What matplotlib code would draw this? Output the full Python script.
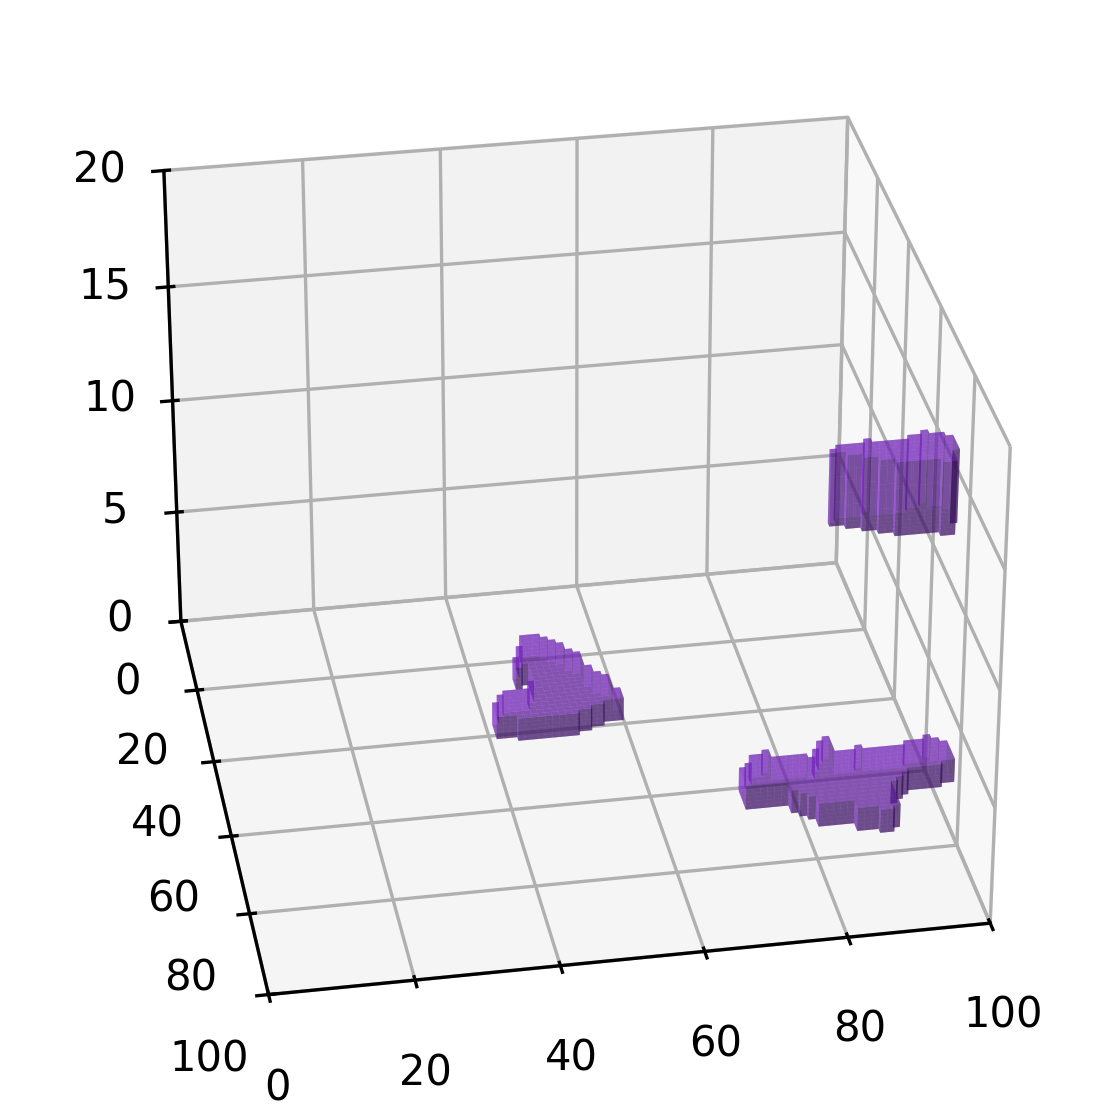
import numpy as np
import matplotlib
matplotlib.use("Agg")
import matplotlib.pyplot as plt

# footprint of each blob, one run of cells per entry (row y, cells x0..x1)
blob1_y = [19, 20, 21, 22, 23, 24, 25, 26, 27, 27, 28, 29, 30, 31, 32, 33, 34, 35, 36, 37, 38, 39, 40, 41]
blob1_x0 = [48, 48, 48, 47, 47, 47, 46, 46, 46, 48, 48, 48, 48, 48, 47, 47, 43, 42, 42, 41, 41, 41, 41, 44]
blob1_x1 = [50, 51, 52, 53, 53, 54, 55, 55, 46, 55, 55, 56, 56, 57, 58, 58, 58, 58, 59, 59, 59, 56, 54, 52]
blob1_z = (0, 1)

blob2_y = [72, 73, 74, 74, 74, 75, 75, 75, 75, 76, 76, 77, 78, 79, 80, 81, 82, 83, 84, 85, 86, 87, 88, 89, 90, 91]
blob2_x0 = [82, 81, 73, 81, 96, 71, 80, 86, 93, 71, 80, 70, 69, 69, 69, 69, 69, 75, 75, 76, 77, 78, 78, 83, 83, 86]
blob2_x1 = [82, 82, 73, 82, 96, 73, 82, 86, 97, 78, 98, 98, 98, 98, 98, 96, 91, 90, 89, 88, 88, 88, 88, 88, 88, 87]
blob2_z = (3, 4)

blob3_y = [87, 88, 88, 89, 90, 91, 92, 93, 94, 95]
blob3_x0 = [91, 83, 89, 79, 78, 80, 82, 84, 86, 92]
blob3_x1 = [91, 83, 93, 94, 94, 94, 94, 93, 93, 93]
blob3_z = (16, 19)

z_ticks = [0, 5, 10, 15, 20]

filled = np.zeros((100, 100, 20), dtype=bool)
blobs = [
    (blob1_y, blob1_x0, blob1_x1, blob1_z),
    (blob2_y, blob2_x0, blob2_x1, blob2_z),
    (blob3_y, blob3_x0, blob3_x1, blob3_z),
]
for rows, starts, ends, (z0, z1) in blobs:
    for y, x0, x1 in zip(rows, starts, ends):
        filled[x0:x1 + 1, y, z0:z1] = True

fig = plt.figure(figsize=(1108 / 300, 1109 / 300), dpi=300)
ax = fig.add_axes([0.0, 0.0, 1.0, 1.0], projection="3d")

ax.voxels(filled, facecolors=(138 / 255, 43 / 255, 226 / 255, 0.5))

ax.set_xlim(0, 100)
ax.set_ylim(100, 0)
ax.set_zlim(0, 20)
ax.set_zticks(z_ticks)
ax.view_init(elev=30, azim=-100)

fig.savefig("out.png", dpi=300)
